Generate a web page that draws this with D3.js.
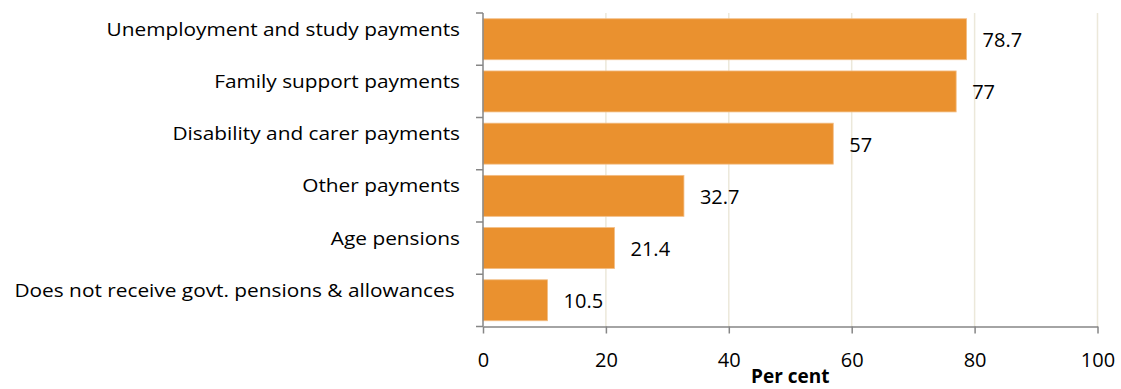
<!DOCTYPE html>
<html>
<head>
<meta charset="utf-8">
<script src="https://cdn.jsdelivr.net/npm/d3@7"></script>
<style>
  html, body { margin: 0; padding: 0; background: #fff; }
  svg { display: block; }
  text { font-family: "Open Sans", Lato, sans-serif; fill: #000; }
</style>
</head>
<body>
<svg id="chart" width="1121" height="389"></svg>
<script>
// Share of people receiving each kind of government payment (per cent)
const categories = [
  "Unemployment and study payments",
  "Family support payments",
  "Disability and carer payments",
  "Other payments",
  "Age pensions",
  "Does not receive govt. pensions & allowances "
];
const values = [78.7, 77, 57, 32.7, 21.4, 10.5];
const xTicks = [0, 20, 40, 60, 80, 100];
const xTitle = "Per cent";

const svg = d3.select("#chart");
const plotLeft = 483, plotRight = 1097.5, plotTop = 13, plotBottom = 326.5;

const x = d3.scaleLinear().domain([0, 100]).range([plotLeft, plotRight]);
const y = d3.scaleBand().domain(categories).range([plotTop, plotBottom])
  .paddingInner(0.215).paddingOuter(0.11);

const axisColor = "#868686";
const gridColor = "#ECE8DA";
const barColor = "#EA912F";
const fontStack = "'Open Sans', Lato, sans-serif";

// vertical gridlines
svg.append("g").selectAll("line")
  .data(xTicks.filter(t => t > 0))
  .join("line")
  .attr("x1", d => x(d)).attr("x2", d => x(d))
  .attr("y1", plotTop).attr("y2", plotBottom)
  .attr("stroke", gridColor).attr("stroke-width", 1.5);

// bars
svg.append("g").selectAll("rect")
  .data(values)
  .join("rect")
  .attr("x", x(0))
  .attr("y", (d, i) => y(categories[i]))
  .attr("width", d => x(d) - x(0))
  .attr("height", y.bandwidth())
  .attr("fill", barColor)
  .attr("stroke", "#F3BE86")
  .attr("stroke-width", 0.8);

// value labels
svg.append("g").selectAll("text")
  .data(values)
  .join("text")
  .attr("x", d => x(d) + 16)
  .attr("y", (d, i) => y(categories[i]) + y.bandwidth() / 2 + 1)
  .attr("dy", "0.35em")
  .style("font-size", "20px")
  .text(d => d);

// y axis: line plus ticks at band boundaries
const yAxis = svg.append("g");
yAxis.append("line")
  .attr("x1", plotLeft).attr("x2", plotLeft)
  .attr("y1", plotTop).attr("y2", plotBottom)
  .attr("stroke", axisColor).attr("stroke-width", 1.5);
const step = (plotBottom - plotTop) / categories.length;
yAxis.selectAll("line.tick")
  .data(d3.range(categories.length + 1))
  .join("line")
  .attr("class", "tick")
  .attr("x1", plotLeft - 7).attr("x2", plotLeft)
  .attr("y1", i => plotTop + i * step).attr("y2", i => plotTop + i * step)
  .attr("stroke", axisColor).attr("stroke-width", 1.5);

// category labels (slightly widened lettering)
yAxis.selectAll("text")
  .data(categories)
  .join("text")
  .attr("transform", d => `translate(460,${y(d) + y.bandwidth() / 2 - 3.5}) scale(1.126,1)`)
  .attr("text-anchor", "end")
  .style("white-space", "pre")
  .style("font-size", "18.5px")
  .text(d => d);

// x axis
const xAxis = svg.append("g")
  .attr("transform", `translate(0,${plotBottom})`)
  .call(d3.axisBottom(x).tickValues(xTicks).tickSize(7).tickSizeOuter(0).tickPadding(0));
xAxis.select(".domain").attr("stroke", axisColor).attr("stroke-width", 1.5);
xAxis.selectAll(".tick line").attr("stroke", axisColor).attr("stroke-width", 1.5);
xAxis.selectAll(".tick text")
  .attr("y", 40).attr("dy", 0)
  .style("font-size", "20px")
  .style("font-family", fontStack)
  .attr("fill", "#000");

// x axis title
svg.append("text")
  .attr("x", (plotLeft + plotRight) / 2)
  .attr("y", 383)
  .attr("text-anchor", "middle")
  .style("font-size", "19px")
  .style("font-weight", "bold")
  .text(xTitle);
</script>
</body>
</html>
